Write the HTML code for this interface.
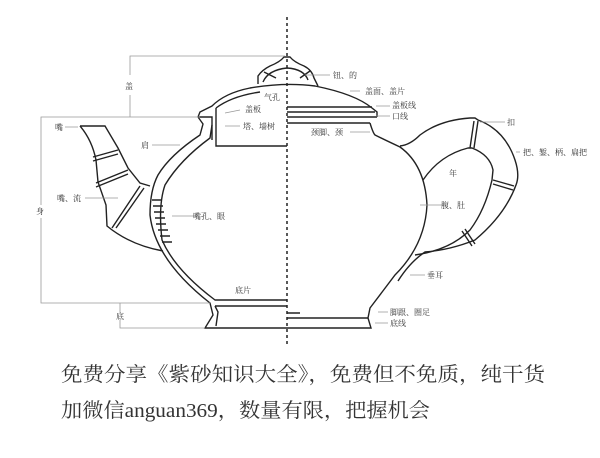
<!DOCTYPE html>
<html><head><meta charset="utf-8"><style>
html,body{margin:0;padding:0;background:#fff;width:600px;height:458px;overflow:hidden}
svg text{font-family:"Liberation Serif","Noto Serif CJK SC",serif;fill:#333}
</style></head><body>
<svg width="600" height="458" viewBox="0 0 600 458" xmlns="http://www.w3.org/2000/svg">
<g fill="none" stroke="#222" stroke-width="1.4">
<!-- knob -->
<path d="M258,84 L258,76 Q262,70 270,66 Q280,62 284,57 L290,57 Q294,62 304,66 Q312,70 314,78 L318,86"/>
<path d="M263,82 Q268,70 287,68 Q304,69 308,80"/>
<path d="M264,72 L276,78 M300,78 L310,71"/>
<!-- lid -->
<path d="M198,117 L200,112 L212,106 Q225,93 250,88 Q285,82 315,86 Q355,94 372,108 L377,112 L377,117"/>
<path d="M216,108 Q232,96 260,92"/>
<path d="M216,108 L216,146 L287,146"/>
<path d="M198,117 L212,117 L212,140"/>
<path d="M287,107 L372,107 M287,112 L375,112 M287,117 L377,117 M287,123 L370,123"/>
<!-- body left -->
<path d="M198,117 L203,124 L200,135 Q170,155 158,175 Q150,190 150,215 Q155,260 210,303 L213,315 L205,328 L287,328"/>
<path d="M212,125 L210,138 Q180,160 165,185 Q158,205 162,240 Q175,270 215,300 L287,300"/>
<path d="M215,306 L287,306 M215,306 L218,312 L216,326 M287,313 L300,313"/>
<!-- spout -->
<path d="M80,126 L105,126 L118,148 L128,168 L140,183 L150,186"/>
<path d="M80,126 Q92,140 96,160 L98,182 L106,205 L107,226 Q130,245 163,251"/>
<path d="M93,157 L118,150 M93,161 L118,154 M96,183 L128,170 M96,187 L128,174 M112,228 L140,186 M116,228 L144,188"/>
<path d="M152,200 L162,200 M153,206 L163,206 M154,212 L164,212 M155,218 L165,218 M156,224 L166,224 M158,230 L168,230 M160,236 L170,236 M162,242 L172,242"/>
<!-- body right -->
<path d="M370,123 Q373,133 375,135 Q385,140 400,147 Q425,165 427,205 Q425,245 395,275 L370,308 L368,318 L371,328 L287,328"/>
<path d="M287,318 L368,318"/>
<!-- handle -->
<path d="M400,146 Q410,145 420,135 Q440,120 470,118 L475,118 L478,120 Q505,130 515,160 Q520,175 516,185 Q505,215 475,240 Q450,250 425,252 Q410,262 398,281"/>
<path d="M423,180 Q440,155 468,148 L472,148 Q490,155 493,170 L492,180 Q485,210 470,230 Q450,250 415,255"/>
<path d="M470,148 L474,121 M474,148 L478,121 M493,180 L514,186 M493,184 L513,190 M465,229 L475,244 M462,231 L472,246"/>
</g>
<line x1="287" y1="17" x2="287" y2="345" stroke="#222" stroke-width="1.5" stroke-dasharray="3,3"/>
<g stroke="#999" stroke-width="0.8" fill="none">
<path d="M130,75 L130,56 L285,56 M130,95 L130,117 M41,117 L200,117 L41,117 L41,205 M41,218 L41,303 L210,303 M120,303 L120,312 M120,320 L120,328 L205,328"/>
<path d="M65,127 L78,127 M152,145 L180,145 M85,198 L118,198 M172,216 L198,216 M240,110 L225,113 M240,126 L225,126 M305,75 L330,75 M350,91 L360,91 M376,106 L390,106 M376,116 L390,116 M350,132 L370,132 M480,122 L505,122 M516,152 L520,152 M420,205 L445,205 M410,275 L425,275 M378,312 L388,312 M375,323 L388,323"/>
</g>
<g font-size="8">
<text x="125" y="89">盖</text>
<text x="55" y="130">嘴</text>
<text x="141" y="148">肩</text>
<text x="57" y="201">嘴、流</text>
<text x="36" y="214">身</text>
<text x="193" y="219">嘴孔、眼</text>
<text x="116" y="319">底</text>
<text x="235" y="293">底片</text>
<text x="264" y="100">气孔</text>
<text x="245" y="112">盖板</text>
<text x="243" y="129">塔、墙树</text>
<text x="333" y="78">钮、的</text>
<text x="365" y="94">盖面、盖片</text>
<text x="392" y="108">盖板线</text>
<text x="392" y="119">口线</text>
<text x="311" y="135">颈脚、颈</text>
<text x="507" y="125">扣</text>
<text x="523" y="155">把、錾、柄、扁把</text>
<text x="449" y="176">年</text>
<text x="441" y="208">腹、肚</text>
<text x="427" y="278">垂耳</text>
<text x="390" y="315">脚跟、圈足</text>
<text x="390" y="326">底线</text>
</g>
<g font-size="20">
<text x="61" y="381" textLength="484" lengthAdjust="spacingAndGlyphs">免费分享《紫砂知识大全》，免费但不免质，纯干货</text>
<text x="61" y="417" textLength="369" lengthAdjust="spacingAndGlyphs">加微信anguan369，数量有限，把握机会</text>
</g>
</svg>
</body></html>
